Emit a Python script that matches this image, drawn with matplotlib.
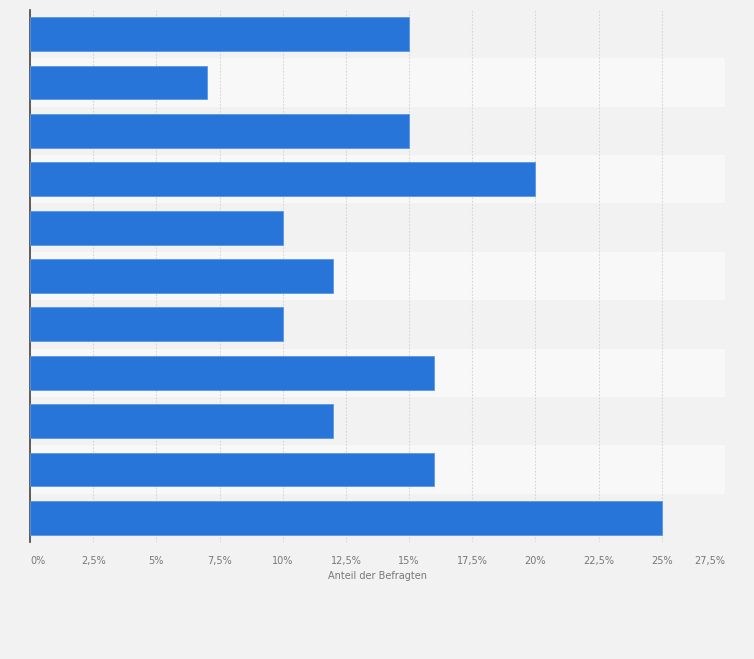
import numpy as np
import matplotlib.pyplot as plt

# values, top bar first
values = [15, 7, 15, 20, 10, 12, 10, 16, 12, 16, 25]
xticks = [0, 2.5, 5, 7.5, 10, 12.5, 15, 17.5, 20, 22.5, 25, 27.5]
xtick_labels = ['0%', '2,5%', '5%', '7,5%', '10%', '12,5%', '15%',
                '17,5%', '20%', '22,5%', '25%', '27,5%']

fig = plt.figure(figsize=(7.54, 6.59), dpi=100, facecolor='#f2f2f2')
ax = fig.add_axes([30 / 754, 1 - 542 / 659, 695 / 754, 532 / 659])
ax.set_facecolor('#f2f2f2')

n = len(values)
pos = np.arange(n)

# alternating stripes
for i in range(n):
    if i % 2 == 1:
        ax.axhspan(i - 0.5, i + 0.5, color='#f8f8f8', zorder=0, lw=0)

ax.barh(pos, values, height=0.7, color='#2775d9', edgecolor='#5a96e6',
        linewidth=0.6, zorder=3)

ax.set_xlim(0, 27.5)
ax.set_ylim(n - 0.5, -0.5)
ax.set_xticks(xticks)
ax.set_xticklabels(xtick_labels, fontsize=7, color='#777777')
labels = ax.get_xticklabels()
labels[0].set_horizontalalignment('left')
labels[-1].set_horizontalalignment('right')
ax.set_yticks([])
ax.xaxis.grid(True, linestyle=(0, (1.5, 1.5)), color='#d6d6d6', lw=0.8, zorder=1)
ax.tick_params(axis='x', length=0, pad=10)

for s in ['top', 'right', 'bottom']:
    ax.spines[s].set_visible(False)
ax.spines['left'].set_color('#444444')
ax.spines['left'].set_linewidth(1.2)

ax.set_xlabel('Anteil der Befragten', fontsize=7, color='#777777', labelpad=4)

fig.savefig('out.png', dpi=100, facecolor=fig.get_facecolor())
